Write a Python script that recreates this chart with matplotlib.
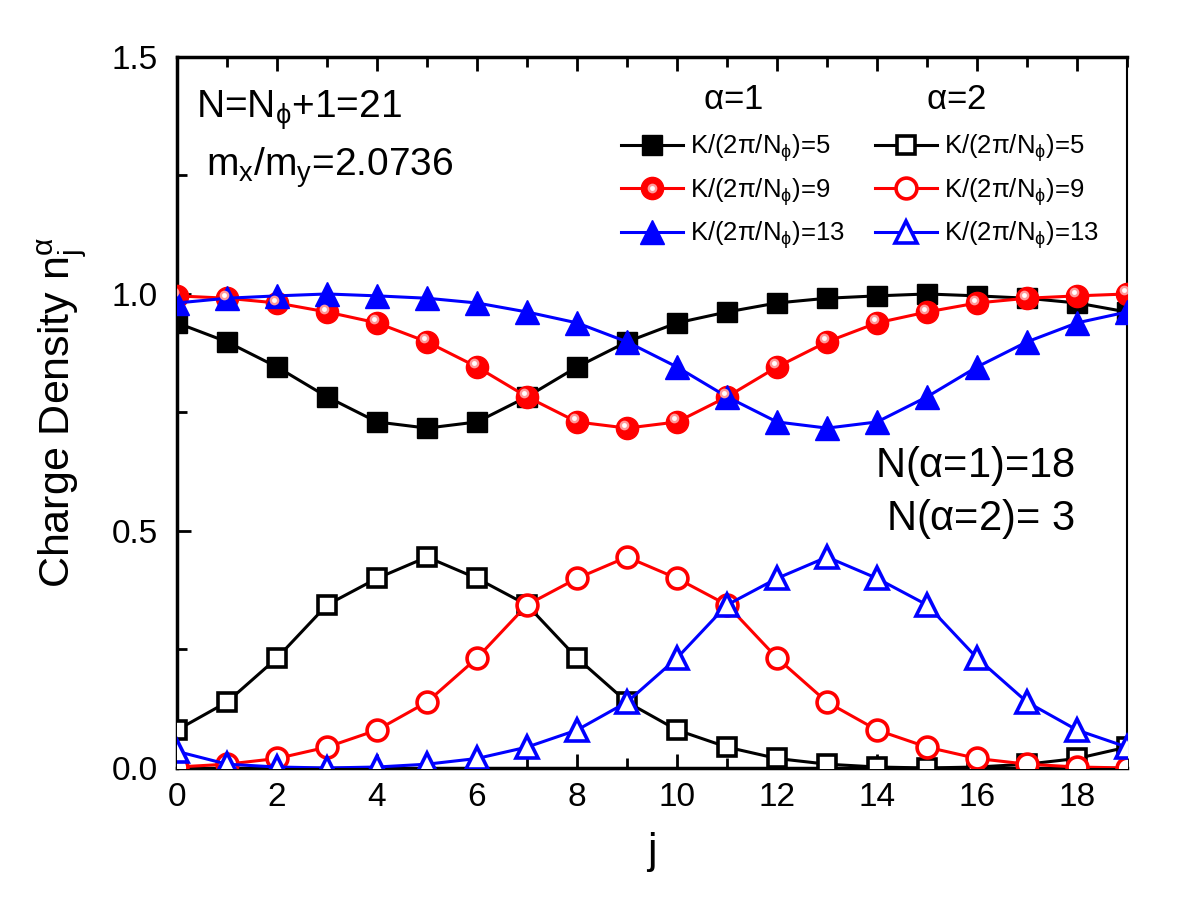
import numpy as np
import matplotlib
matplotlib.use('Agg')
import matplotlib.pyplot as plt
from matplotlib.ticker import MultipleLocator
from matplotlib.transforms import offset_copy
from matplotlib.legend_handler import HandlerTuple

plt.rcParams['font.family'] = ['Liberation Sans', 'DejaVu Sans']
plt.rcParams['mathtext.fontset'] = 'custom'
plt.rcParams['mathtext.rm'] = 'Liberation Sans'
plt.rcParams['mathtext.it'] = 'Liberation Sans'
plt.rcParams['mathtext.bf'] = 'Liberation Sans:bold'

# site index j
j = np.arange(20)

# charge density, alpha = 1 (filled markers)
n1_k5 = [0.939, 0.899, 0.846, 0.783, 0.730, 0.717, 0.730, 0.783, 0.846, 0.899,
         0.939, 0.962, 0.981, 0.991, 0.996, 1.000, 0.996, 0.991, 0.981, 0.962]
n1_k9 = [0.996, 0.991, 0.981, 0.962, 0.939, 0.899, 0.846, 0.783, 0.730, 0.717,
         0.730, 0.783, 0.846, 0.899, 0.939, 0.962, 0.981, 0.991, 0.996, 1.000]
n1_k13 = [0.981, 0.991, 0.996, 1.000, 0.996, 0.991, 0.981, 0.962, 0.939, 0.899,
          0.846, 0.783, 0.730, 0.717, 0.730, 0.783, 0.846, 0.899, 0.939, 0.962]

# charge density, alpha = 2 (open markers)
n2_k5 = [0.080, 0.139, 0.232, 0.344, 0.400, 0.445, 0.400, 0.344, 0.232, 0.139,
         0.080, 0.044, 0.020, 0.008, 0.002, 0.000, 0.002, 0.008, 0.020, 0.044]
n2_k9 = [0.002, 0.008, 0.020, 0.044, 0.080, 0.139, 0.232, 0.344, 0.400, 0.445,
         0.400, 0.344, 0.232, 0.139, 0.080, 0.044, 0.020, 0.008, 0.002, 0.000]
n2_k13 = [0.035, 0.008, 0.002, 0.000, 0.002, 0.008, 0.020, 0.044, 0.080, 0.139,
          0.232, 0.344, 0.400, 0.445, 0.400, 0.344, 0.232, 0.139, 0.080, 0.044]

labels = [r'K/(2$\pi$/N$_{\phi}$)=5', r'K/(2$\pi$/N$_{\phi}$)=9', r'K/(2$\pi$/N$_{\phi}$)=13']

fig = plt.figure(figsize=(12, 9), dpi=100)
ax = fig.add_axes([0.1475, 0.1467, 0.7917, 0.79])

lw = 2.2
ms = 15

# alpha = 1
h1a, = ax.plot(j, n1_k5, '-s', color='black', lw=lw, ms=ms, mfc='black', mec='black', zorder=3)
h1b, = ax.plot(j, n1_k9, '-o', color='red', lw=lw, ms=ms + 1, mfc='red', mec='red', zorder=3)
hl_tr = offset_copy(ax.transData, fig=fig, x=-2.5, y=2.5, units='points')
hlb, = ax.plot(j, n1_k9, 'o', ms=7, mfc='#ff9a9a', mec='none', transform=hl_tr, zorder=3.1)
hlc, = ax.plot(j, n1_k9, 'o', ms=3.5, mfc='white', mec='none', transform=hl_tr, zorder=3.2)
h1c, = ax.plot(j, n1_k13, '-^', color='blue', lw=lw, ms=ms + 2, mfc='blue', mec='blue', zorder=3)

# alpha = 2
h2a, = ax.plot(j, n2_k5, '-s', color='black', lw=lw, ms=ms - 2, mfc='white', mec='black', mew=2.6, zorder=3)
h2b, = ax.plot(j, n2_k9, '-o', color='red', lw=lw, ms=ms, mfc='white', mec='red', mew=2.6, zorder=3)
h2c, = ax.plot(j, n2_k13, '-^', color='blue', lw=lw, ms=ms + 1, mfc='white', mec='blue', mew=2.6, zorder=3)

ax.set_xlim(0, 19)
ax.set_ylim(0, 1.5)
ax.xaxis.set_major_locator(MultipleLocator(2))
ax.xaxis.set_minor_locator(MultipleLocator(1))
ax.yaxis.set_major_locator(MultipleLocator(0.5))
ax.yaxis.set_minor_locator(MultipleLocator(0.25))
ax.yaxis.set_major_formatter(plt.FormatStrFormatter('%.1f'))
ax.tick_params(axis='both', which='both', direction='in', width=2, labelsize=24)
ax.tick_params(axis='x', which='major', length=10, pad=10, top=True)
ax.tick_params(axis='x', which='minor', length=7, top=True)
ax.tick_params(axis='y', which='major', length=10, pad=14)
ax.tick_params(axis='y', which='minor', length=7)
for side in ['left', 'bottom', 'top']:
    ax.spines[side].set_linewidth(2.5)
ax.spines['right'].set_linewidth(1.5)

ax.set_xlabel('j', fontsize=31, family=['Liberation Sans Narrow', 'Liberation Sans'], labelpad=14)
ax.set_ylabel(r'Charge Density n$_\mathrm{j}^{\alpha}$', fontsize=31,
              family=['Liberation Sans Narrow', 'Liberation Sans'], labelpad=16)

ax.text(0.02, 0.925, r'N=N$_{\phi}$+1=21', transform=ax.transAxes, fontsize=28, va='center')
ax.text(0.03, 0.845, r'm$_\mathrm{x}$/m$_\mathrm{y}$=2.0736', transform=ax.transAxes, fontsize=28, va='center')
ax.text(0.945, 0.425, r'N($\alpha$=1)=18', transform=ax.transAxes, fontsize=30, ha='right', va='center')
ax.text(0.945, 0.35, r'N($\alpha$=2)= 3', transform=ax.transAxes, fontsize=30, ha='right', va='center')

ax.text(0.585, 0.94, r'$\alpha$=1', transform=ax.transAxes, fontsize=25, ha='center', va='center')
ax.text(0.82, 0.94, r'$\alpha$=2', transform=ax.transAxes, fontsize=25, ha='center', va='center')

handles = [h1a, (h1b, hlb, hlc), h1c, h2a, h2b, h2c]
leg = ax.legend(handles, labels + labels, ncol=2, frameon=False, fontsize=18.5,
                loc='upper left', bbox_to_anchor=(0.443, 0.926), handlelength=2.4,
                handletextpad=0.3, columnspacing=1.15, labelspacing=0.45,
                handler_map={tuple: HandlerTuple(ndivide=1)})

fig.savefig('out.png', dpi=100, facecolor='white')
